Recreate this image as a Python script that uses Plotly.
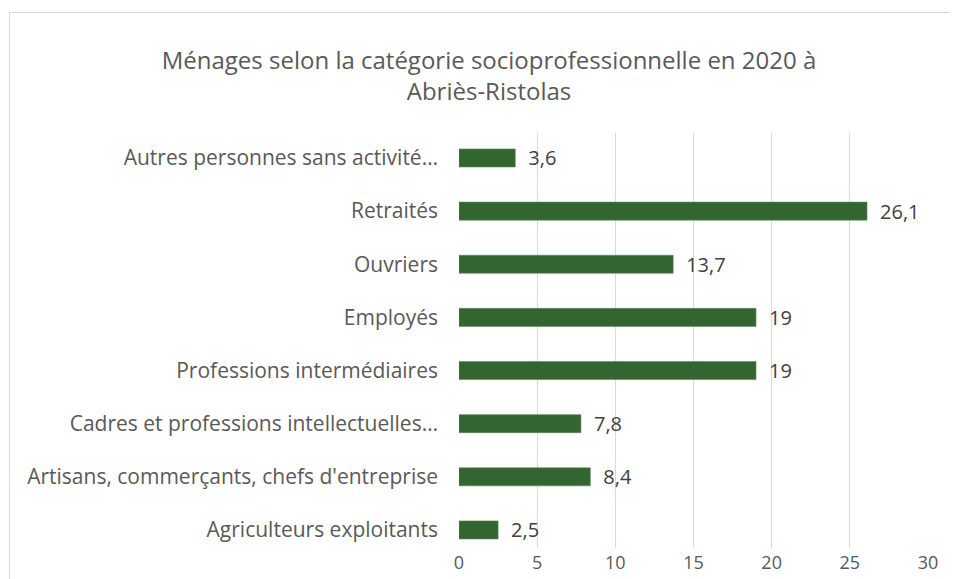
import plotly.graph_objects as go

categories = [
    "Agriculteurs exploitants",
    "Artisans, commerçants, chefs d'entreprise",
    "Cadres et professions intellectuelles…",
    "Professions intermédiaires",
    "Employés",
    "Ouvriers",
    "Retraités",
    "Autres personnes sans activité…",
]
values = [2.5, 8.4, 7.8, 19, 19, 13.7, 26.1, 3.6]
x_ticks = [0, 5, 10, 15, 20, 25, 30]
title_text = "Ménages selon la catégorie socioprofessionnelle en 2020 à<br>Abriès-Ristolas"

labels = [("%g" % v).replace(".", ",") for v in values]

# page body has an 8px margin, so the figure is drawn at (8, 8)
OFF = 8
W, H = 958 - OFF, 579 - OFF
ml, mr, mt, mb = 459 - OFF, 30, 133 - OFF, 579 - 548
pw, ph = W - ml - mr, H - mt - mb

def px_to_paper_x(px):
    return (px - OFF - ml) / pw

def px_to_paper_y(py):
    return (H - mb - (py - OFF)) / ph

FONT = "Open Sans"
GREY = "#595959"

fig = go.Figure(
    go.Bar(
        y=categories,
        x=values,
        orientation="h",
        marker=dict(color="#326530", line=dict(color="#5f8a5d", width=0.6)),
        text=labels,
        texttemplate="\u2002%{text}",
        textposition="outside",
        constraintext="none",
        textfont=dict(family=FONT, size=20, color="#404040"),
        cliponaxis=False,
        width=0.34,
    )
)

fig.update_layout(
    width=W,
    height=H,
    margin=dict(l=ml, r=mr, t=mt, b=mb, autoexpand=False),
    paper_bgcolor="white",
    plot_bgcolor="white",
    showlegend=False,
    title=dict(
        text=title_text,
        x=(489 - OFF) / W,
        xanchor="center",
        y=1 - (69 - OFF) / H,
        yanchor="middle",
        font=dict(family=FONT, size=24, color=GREY),
    ),
    xaxis=dict(
        range=[0, 30],
        tickvals=x_ticks,
        showgrid=True,
        gridcolor="#D9D9D9",
        gridwidth=1,
        zeroline=False,
        showline=False,
        ticks="",
        ticklabelstandoff=2,
        tickfont=dict(family=FONT, size=18, color=GREY),
        automargin=False,
        fixedrange=True,
    ),
    yaxis=dict(
        categoryorder="array",
        categoryarray=categories,
        range=[-0.34, 7.47],
        showgrid=False,
        zeroline=False,
        showline=False,
        ticks="",
        ticklabelstandoff=20,
        tickfont=dict(family=FONT, size=21, color=GREY),
        automargin=False,
        fixedrange=True,
    ),
    shapes=[
        dict(
            type="rect",
            xref="paper",
            yref="paper",
            x0=px_to_paper_x(9.5),
            x1=px_to_paper_x(1000),
            y0=px_to_paper_y(640),
            y1=px_to_paper_y(12.5),
            line=dict(color="#D9D9D9", width=1),
            fillcolor="rgba(0,0,0,0)",
            layer="below",
        )
    ],
)

fig.write_html("out.html")
